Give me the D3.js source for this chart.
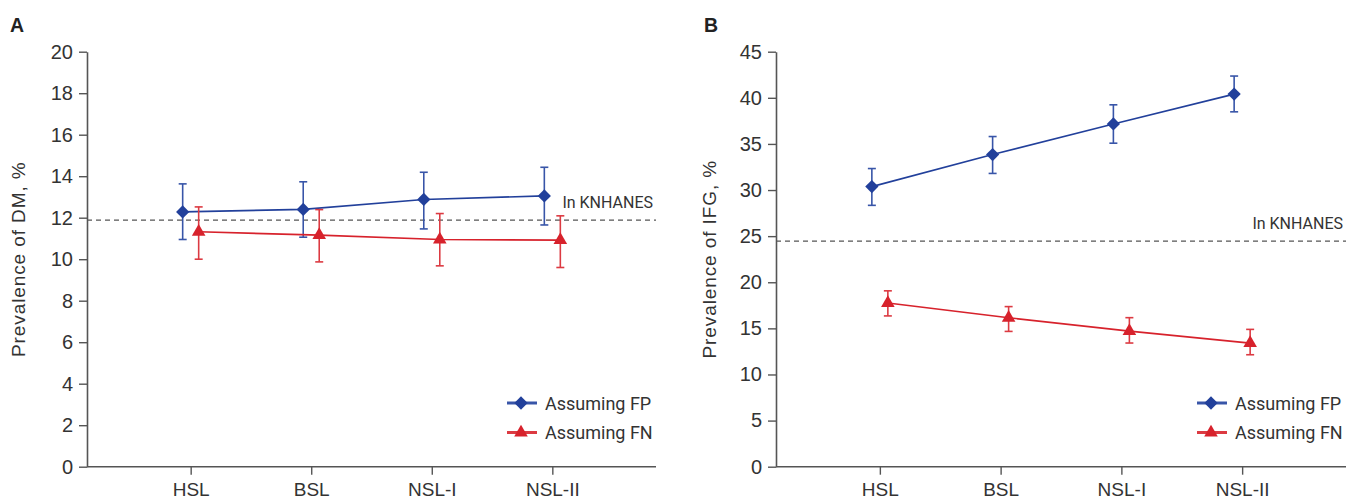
<!DOCTYPE html>
<html lang="en">
<meta charset="UTF-8">
<title>Prevalence of DM and IFG</title>
<script src="https://d3js.org/d3.v7.min.js"></script>
<style>
  body { margin: 0; background: #fff; }
  svg { display: block; }
</style>
<body>
<svg width="1352" height="500"></svg>

<script>
// categories (x axis)
var categories = ["HSL", "BSL", "NSL-I", "NSL-II"];

// panel A : prevalence of DM, %
var dmFP   = [12.28, 12.40, 12.88, 13.05];
var dmFPLo = [10.95, 11.06, 11.46, 11.65];
var dmFPHi = [13.63, 13.73, 14.19, 14.43];
var dmFN   = [11.32, 11.16, 10.95, 10.92];
var dmFNLo = [10.00, 9.87, 9.68, 9.60];
var dmFNHi = [12.52, 12.39, 12.20, 12.09];
var dmRef  = 11.88;
var dmTicks = [0, 2, 4, 6, 8, 10, 12, 14, 16, 18, 20];

// panel B : prevalence of IFG, %
var ifgFP   = [30.37, 33.85, 37.17, 40.40];
var ifgFPLo = [28.34, 31.80, 35.08, 38.48];
var ifgFPHi = [32.33, 35.80, 39.24, 42.36];
var ifgFN   = [17.75, 16.15, 14.70, 13.40];
var ifgFNLo = [16.35, 14.67, 13.41, 12.14];
var ifgFNHi = [19.07, 17.36, 16.16, 14.89];
var ifgRef  = 24.46;
var ifgTicks = [0, 5, 10, 15, 20, 25, 30, 35, 40, 45];

var seriesNames = ["Assuming FP", "Assuming FN"];

var blue = "#22409b", blueBar = "#3855a8";
var red = "#d7222c", redBar = "#dc3a42";

var svg = d3.select("svg");

function drawPanel(p) {
  var g = svg.append("g");

  var x = d3.scalePoint().domain(categories).range([p.left, p.right]).padding(0.86);
  var y = d3.scaleLinear().domain([0, p.max]).range([466.7, 51.7]);

  // panel letter
  g.append("text").attr("x", p.letterX).attr("y", 31.5)
    .style("font-family", "Liberation Sans, Arial, sans-serif")
    .style("font-weight", "bold").style("font-size", "19.5px").attr("fill", "#222")
    .text(p.letter);

  // y axis
  var yAxis = g.append("g").attr("transform", "translate(" + p.left + ",0)")
    .call(d3.axisLeft(y).tickValues(p.ticks).tickSize(8).tickPadding(6).tickSizeOuter(0));
  yAxis.select(".domain").attr("stroke", "#555").attr("stroke-width", 1.6);
  yAxis.selectAll(".tick line").attr("stroke", "#555").attr("stroke-width", 1.4);
  yAxis.selectAll(".tick text").attr("fill", "#333")
    .style("font-family", "Liberation Sans, Arial, sans-serif").style("font-size", "20px");

  // x axis
  var xAxis = g.append("g").attr("transform", "translate(0,466.7)")
    .call(d3.axisBottom(x).tickSize(8).tickPadding(8).tickSizeOuter(0));
  xAxis.select(".domain").attr("d", "M" + p.left + ",0H" + p.right)
    .attr("stroke", "#555").attr("stroke-width", 1.6);
  xAxis.selectAll(".tick line").attr("stroke", "#555").attr("stroke-width", 1.4);
  xAxis.selectAll(".tick text").attr("fill", "#333")
    .style("font-family", "Liberation Sans, Arial, sans-serif").style("font-size", "19px");

  // y axis title
  g.append("text")
    .attr("transform", "translate(" + p.titleX + "," + y(p.max / 2) + ") rotate(-90)")
    .attr("text-anchor", "middle")
    .style("font-family", "Liberation Sans, Arial, sans-serif").style("font-size", "19px")
    .style("letter-spacing", "0.9px")
    .attr("fill", "#333")
    .text(p.title);

  // reference line
  g.append("line")
    .attr("x1", p.left).attr("x2", p.right)
    .attr("y1", y(p.ref)).attr("y2", y(p.ref))
    .attr("stroke", "#555").attr("stroke-width", 1.2).attr("stroke-dasharray", "5,4");
  g.append("text")
    .attr("x", p.right - 3).attr("y", y(p.ref) - 12)
    .attr("text-anchor", "end")
    .style("font-family", "Roboto, sans-serif").style("font-size", "16px")
    .attr("fill", "#333")
    .text("In KNHANES");

  // diamond = square turned 45 degrees
  var series = [
    { vals: p.fp, lo: p.fpLo, hi: p.fpHi, dx: -8, color: blue, bar: blueBar, sym: d3.symbolSquare, size: 88, rot: 45 },
    { vals: p.fn, lo: p.fnLo, hi: p.fnHi, dx: 8, color: red, bar: redBar, sym: d3.symbolTriangle, size: 80, rot: 0 }
  ];

  series.forEach(function(s) {
    var pts = categories.map(function(c, i) {
      return { x: x(c) + s.dx, v: s.vals[i], lo: s.lo[i], hi: s.hi[i] };
    });

    var line = d3.line().x(function(d) { return d.x; }).y(function(d) { return y(d.v); });
    g.append("path").datum(pts).attr("d", line)
      .attr("fill", "none").attr("stroke", s.color).attr("stroke-width", 1.6);

    var bars = g.selectAll(null).data(pts).enter().append("g").attr("stroke", s.bar).attr("stroke-width", 1.6);
    bars.append("line")
      .attr("x1", function(d) { return d.x; }).attr("x2", function(d) { return d.x; })
      .attr("y1", function(d) { return y(d.lo); }).attr("y2", function(d) { return y(d.hi); });
    bars.append("line")
      .attr("x1", function(d) { return d.x - 4; }).attr("x2", function(d) { return d.x + 4; })
      .attr("y1", function(d) { return y(d.hi); }).attr("y2", function(d) { return y(d.hi); });
    bars.append("line")
      .attr("x1", function(d) { return d.x - 4; }).attr("x2", function(d) { return d.x + 4; })
      .attr("y1", function(d) { return y(d.lo); }).attr("y2", function(d) { return y(d.lo); });

    g.selectAll(null).data(pts).enter().append("path")
      .attr("d", d3.symbol().type(s.sym).size(s.size))
      .attr("transform", function(d) { return "translate(" + d.x + "," + y(d.v) + ") rotate(" + s.rot + ")"; })
      .attr("fill", s.color);
  });

  // legend
  var leg = g.selectAll(null).data(series).enter().append("g")
    .attr("transform", function(d, i) { return "translate(" + (p.right - 149) + "," + (403 + i * 29.5) + ")"; });
  leg.append("line").attr("x1", 0).attr("x2", 30).attr("y1", 0).attr("y2", 0)
    .attr("stroke", function(d) { return d.bar; }).attr("stroke-width", 3);
  leg.append("path")
    .attr("d", function(d) { return d3.symbol().type(d.sym).size(d.size)(); })
    .attr("transform", function(d) { return "translate(14,0) rotate(" + d.rot + ")"; })
    .attr("fill", function(d) { return d.color; });
  leg.append("text").attr("x", 38).attr("y", 6.5)
    .style("font-family", "Roboto, sans-serif").style("font-size", "18px")
    .attr("fill", "#333")
    .text(function(d, i) { return seriesNames[i]; });
}

drawPanel({
  letter: "A", letterX: 10, left: 87, right: 656, max: 20, ticks: dmTicks, titleX: 25,
  title: "Prevalence of DM, %", ref: dmRef,
  fp: dmFP, fpLo: dmFPLo, fpHi: dmFPHi, fn: dmFN, fnLo: dmFNLo, fnHi: dmFNHi
});

drawPanel({
  letter: "B", letterX: 704, left: 776, right: 1346, max: 45, ticks: ifgTicks, titleX: 716,
  title: "Prevalence of IFG, %", ref: ifgRef,
  fp: ifgFP, fpLo: ifgFPLo, fpHi: ifgFPHi, fn: ifgFN, fnLo: ifgFNLo, fnHi: ifgFNHi
});
</script>
</body>
</html>
